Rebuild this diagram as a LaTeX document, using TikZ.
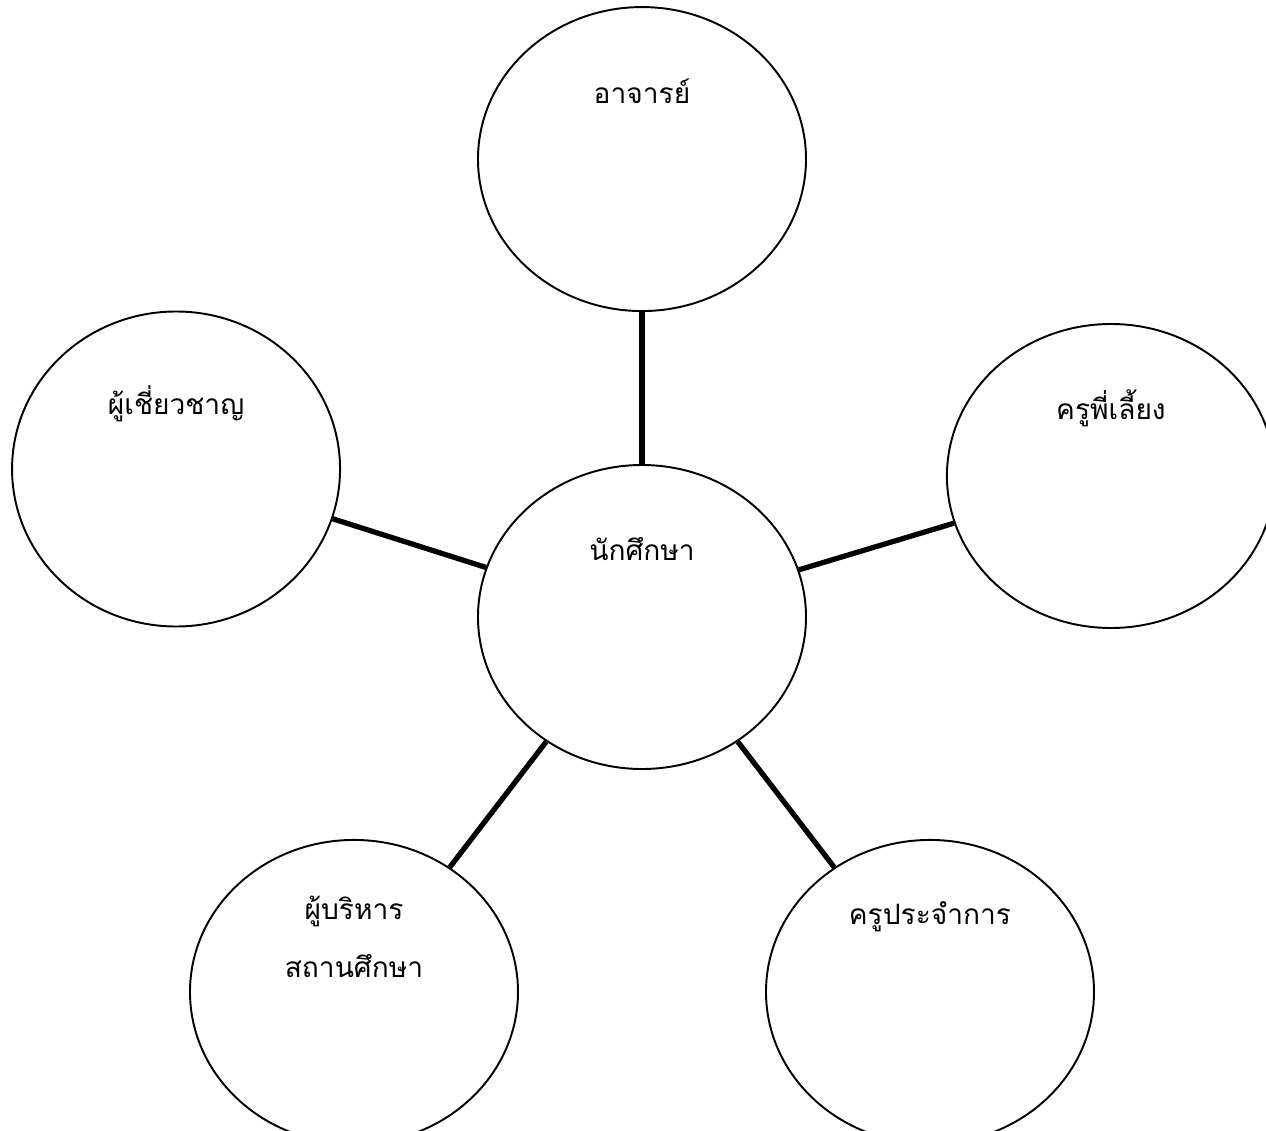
\documentclass[tikz,border=0pt]{standalone}
\usepackage{fontspec}
\newfontfamily\thaifont[Script=Thai]{Loma}
\usetikzlibrary{shapes.geometric,positioning}

\begin{document}
\begin{tikzpicture}[
	role/.style = {shape=ellipse, draw, line width=1.1pt, inner sep=0pt,
		minimum width=6.56cm, minimum height=6.08cm},
	caption/.style = {font=\thaifont\fontsize{16}{33}\selectfont,
		align=center, anchor=base, yshift=#1},
	caption/.default = 1.36cm,
	link/.style = {line width=3pt}]

	\useasboundingbox (-12.84,12.34) rectangle (12.48,-10.26);

	\node[role, label={[caption]center:นักศึกษา}] (student) at (0,0) {};
	\node[role, above=3.04cm of student, label={[caption]center:อาจารย์}] (teacher) {};
	\node[role, right=2.78cm of student, yshift=2.82cm,
		label={[caption]center:ครูพี่เลี้ยง}] (mentor) {};
	\node[role, left=2.72cm of student, yshift=2.96cm, minimum height=6.3cm,
		label={[caption=1.3cm]center:ผู้เชี่ยวชาญ}] (expert) {};
	\node[role, below=1.38cm of student, xshift=-5.76cm,
		label={[caption=1.1cm]center:{ผู้บริหาร\\สถานศึกษา}}] (director) {};
	\node[role, below=1.38cm of student, xshift=5.76cm,
		label={[caption=1.5cm]center:ครูประจำการ}] (staffteacher) {};

	\draw[link] (student) -- (teacher);
	\draw[link] (student) -- (mentor);
	\draw[link] (student) -- (expert);
	\draw[link] (student) -- (director);
	\draw[link] (student) -- (staffteacher);
\end{tikzpicture}
\end{document}
